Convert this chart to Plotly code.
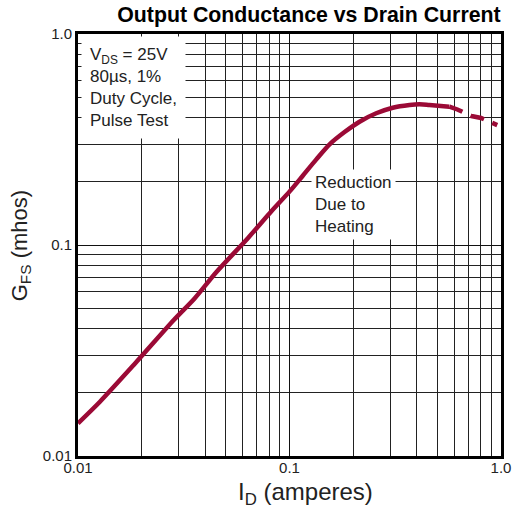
import plotly.graph_objects as go

# Drain current (A) and output conductance (mhos)
id_solid = [0.01, 0.0127, 0.01852, 0.02838, 0.03566, 0.04515, 0.0637, 0.0821,
            0.1002, 0.1158, 0.1339, 0.1547, 0.1821, 0.2144, 0.2570, 0.3078,
            0.3692, 0.4116, 0.4588, 0.570]
gfs_solid = [0.01429, 0.01808, 0.02729, 0.0441, 0.056, 0.0745, 0.108, 0.1445,
             0.1795, 0.2135, 0.2545, 0.300, 0.343, 0.3840, 0.4210, 0.4474,
             0.4608, 0.4644, 0.4608, 0.4525]
id_dash = [0.570, 0.6218, 0.7244, 0.8047, 0.96]
gfs_dash = [0.4525, 0.4388, 0.4087, 0.3999, 0.3700]

tick_vals = [0.01, 0.1, 1.0]
tick_text = ["0.01", "0.1", "1.0"]
minor_vals = [m * d for d in (0.01, 0.1) for m in range(2, 10)]

FONT = "Liberation Sans, Arial, sans-serif"
RED = "#9B0A36"
TXT = "#222222"

fig = go.Figure()
fig.add_trace(go.Scatter(x=id_solid, y=gfs_solid, mode="lines",
                         line=dict(color=RED, width=4.5, shape="spline", smoothing=0.8),
                         showlegend=False, hoverinfo="skip"))
fig.add_trace(go.Scatter(x=id_dash, y=gfs_dash, mode="lines",
                         line=dict(color=RED, width=4.5, dash="14px,9px"),
                         showlegend=False, hoverinfo="skip"))

axis_common = dict(
    type="log", range=[-2, 0], tickvals=tick_vals, ticktext=tick_text,
    showgrid=True, gridcolor="#111111", gridwidth=1,
    showline=True, linecolor="black", linewidth=3, mirror=True,
    ticks="", zeroline=False,
    tickfont=dict(family=FONT, size=15, color=TXT),
    minor=dict(tickvals=minor_vals, showgrid=True, gridcolor="#222222",
               gridwidth=1, ticks=""),
)

fig.update_layout(
    width=519, height=512,
    margin=dict(l=78, r=18, t=34, b=56, autoexpand=False),
    paper_bgcolor="white", plot_bgcolor="white",
    title=dict(text="<b>Output Conductance vs Drain Current</b>",
               font=dict(family=FONT, size=21.3, color="black"),
               xref="paper", x=0.546, xanchor="center",
               yref="container", y=0.972, yanchor="middle"),
    xaxis=dict(axis_common, ticklabelstandoff=-4),
    yaxis=axis_common,
    annotations=[
        dict(text="I<sub>D</sub> (amperes)", xref="paper", yref="paper",
             x=0.537, y=0, yshift=-37, xanchor="center", yanchor="middle",
             showarrow=False, font=dict(family=FONT, size=24, color=TXT)),
        dict(text="G<sub>FS</sub> (mhos)", xref="paper", yref="paper",
             x=0, xshift=-57, y=0.497, xanchor="center", yanchor="middle",
             textangle=-90, showarrow=False,
             font=dict(family=FONT, size=22, color=TXT)),
        dict(text="V<sub>DS</sub> = 25V<br>80µs, 1%<br>Duty Cycle,<br>Pulse Test",
             xref="paper", yref="paper", x=0.0, y=1.0, xanchor="left", yanchor="top",
             xshift=3, yshift=-2,
             align="left", showarrow=False, bgcolor="white", borderpad=8,
             font=dict(family=FONT, size=17, color=TXT)),
        dict(text="Reduction<br>Due to<br>Heating",
             xref="paper", yref="paper", x=0.552, y=0.678, xanchor="left", yanchor="top",
             xshift=0, yshift=1,
             align="left", showarrow=False, bgcolor="white", borderpad=3,
             font=dict(family=FONT, size=17, color=TXT)),
    ],
)

fig.write_html("out.html", post_script="document.body.style.margin='0';",
               config={"displayModeBar": False})
